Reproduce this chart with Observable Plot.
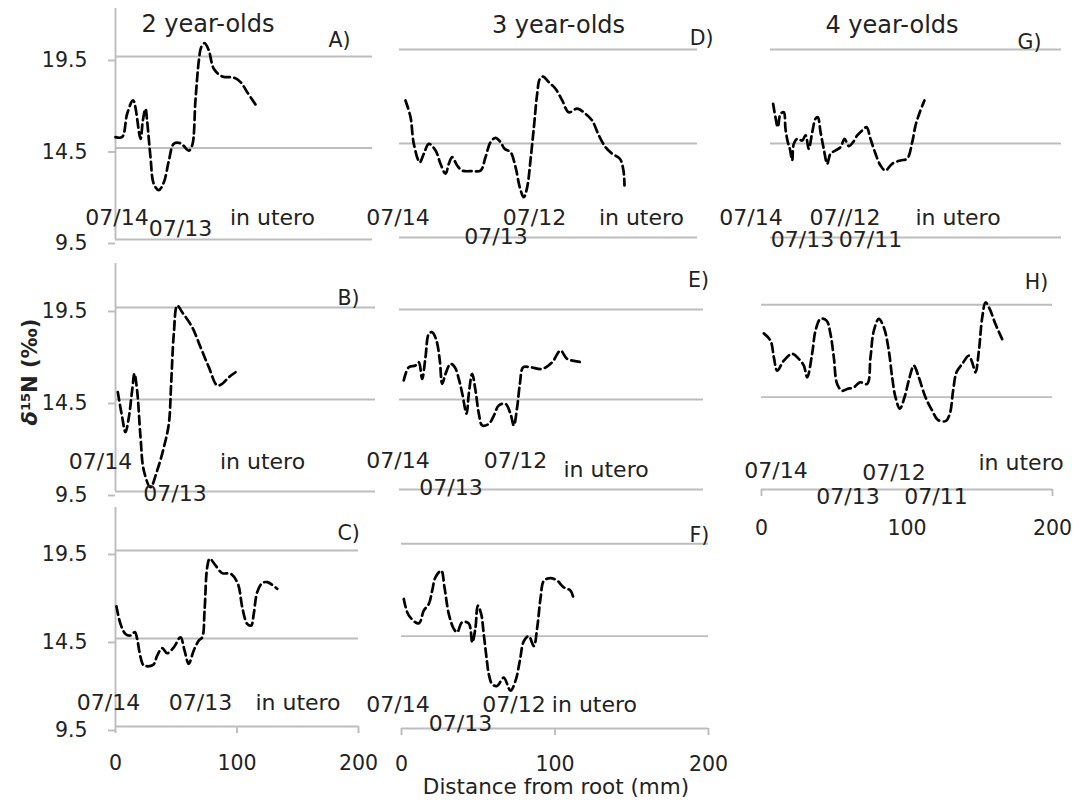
<!DOCTYPE html>
<html>
<head>
<meta charset="utf-8">
<script src="https://cdn.jsdelivr.net/npm/d3@7"></script>
<script src="https://cdn.jsdelivr.net/npm/@observablehq/plot@0.6"></script>
<style>
  html, body { margin: 0; padding: 0; background: #fff; }
  #chart { position: relative; width: 1078px; height: 801px; overflow: hidden; font-family: "DejaVu Sans", sans-serif; color: #222; }
  .ytitle { position: absolute; left: -80px; top: 358px; width: 220px; height: 28px; line-height: 28px; text-align: center; transform: rotate(-90deg); font-weight: bold; font-size: 21px; white-space: nowrap; }
  .ytitle sup { font-size: 0.62em; vertical-align: 0.55em; line-height: 0; }
  .xtitle { position: absolute; left: 356px; top: 774px; width: 400px; height: 26px; line-height: 26px; text-align: center; font-size: 21.5px; white-space: nowrap; }
</style>
</head>
<body>
<div id="chart">
  <div class="ytitle"><i>δ</i><sup>15</sup>N (‰)</div>
  <div class="xtitle">Distance from root (mm)</div>
</div>
<script>
// ---------- data (distance from root in mm, δ15N in ‰) ----------
const gridValues = [9.5, 14.5, 19.5];
const yTickLabels = ["9.5", "14.5", "19.5"];
const xTickValues = [0, 100, 200];
const columnTitles = ["2 year-olds", "3 year-olds", "4 year-olds"];

// Panel A (2 year-olds)
const aX = [0, 5.5, 9.6, 14.5, 20.6, 22.5, 24.7, 26, 28.8, 31.5, 35.6, 39.8, 43.9, 48, 53.5, 60.3, 63.1, 65.8, 68.6, 70.5, 73.3, 76.8, 80.9, 87.8, 97.4, 102.9, 108.4, 115.2];
const aY = [15.09, 15.1, 16.37, 17.1, 15.0, 16.0, 16.64, 16.0, 14.0, 12.54, 12.2, 12.63, 13.8, 14.73, 14.76, 14.36, 14.64, 17.1, 19.28, 20.0, 20.23, 19.83, 18.83, 18.41, 18.34, 18.1, 17.55, 16.88];
const aNoteText = ["07/14", "07/13", "in utero"];
const aNoteX = [1.2, 53.5, 129.2];
const aNoteY = [10.70, 10.05, 10.70];

// Panel B (2 year-olds)
const bX = [1.9, 5.5, 8.2, 11, 13.7, 15.6, 17.8, 20.6, 23.3, 28.8, 34.3, 39.8, 43.9, 45.8, 48, 50.8, 54.9, 63.1, 70, 76.8, 83.7, 87.8, 93.3, 98.8];
const bY = [14.9, 13.54, 12.72, 13.54, 14.99, 15.9, 14.99, 12.45, 10.64, 9.73, 10.64, 11.9, 13.18, 15.35, 18.07, 19.6, 19.24, 18.43, 17.34, 16.26, 15.26, 15.35, 15.71, 15.98];
const bNoteText = ["07/14", "07/13", "in utero"];
const bNoteX = [-12.3, 49.0, 121.0];
const bNoteY = [11.13, 9.34, 11.08];

// Panel C (2 year-olds)
const cX = [0.8, 4.1, 8.2, 12.3, 15.9, 17.8, 20.6, 23.3, 31, 34.3, 38.4, 42.5, 48, 53.5, 56.8, 60.3, 64.4, 68.6, 71.4, 73.3, 75.5, 77.6, 82.3, 87.8, 94.7, 100.7, 104.3, 108.4, 111.7, 113.8, 116.6, 120.7, 124.9, 133.1];
const cY = [16.32, 15.33, 14.76, 14.67, 14.86, 14.48, 13.44, 12.97, 13.0, 13.53, 13.95, 13.66, 14.0, 14.57, 13.82, 13.06, 13.82, 14.39, 14.57, 16.09, 18.55, 19.03, 18.65, 18.21, 18.18, 17.61, 16.28, 15.33, 15.24, 15.9, 17.13, 17.64, 17.70, 17.32];
const cNoteText = ["07/14", "07/13", "in utero"];
const cNoteX = [-5.8, 70.0, 150.2];
const cNoteY = [10.81, 10.81, 10.81];

// Panel D (3 year-olds)
const dX = [4.0, 7.4, 9.6, 13.6, 16.3, 19.7, 24.2, 27.5, 30.9, 33.1, 35.4, 38.7, 42.1, 48.8, 54.4, 57.7, 61.1, 64.4, 67.8, 70.5, 74.5, 77.9, 80.7, 83.4, 85.7, 87.9, 90.2, 92.4, 94.2, 96.4, 100.2, 104.7, 109.2, 113.6, 119.3, 124.8, 129.3, 133.8, 138.3, 142.8, 147.9, 150.3, 151.0];
const dY = [16.79, 15.9, 14.48, 13.5, 13.95, 14.48, 14.13, 13.42, 12.89, 13.42, 13.77, 13.33, 13.06, 13.03, 13.06, 13.77, 14.57, 14.80, 14.57, 14.22, 14.04, 13.24, 12.18, 11.64, 12.18, 13.6, 15.37, 17.14, 17.94, 18.06, 17.76, 17.41, 16.79, 16.16, 16.35, 16.08, 15.72, 14.93, 14.30, 13.95, 13.69, 13.06, 12.27];
const dNoteText = ["07/14", "07/12", "07/13", "in utero"];
const dNoteX = [-1.0, 90.6, 64.8, 162.4];
const dNoteY = [10.56, 10.56, 9.55, 10.56];

// Panel E (3 year-olds)
const eX = [2.8, 6.1, 10.5, 12.7, 14.9, 17.1, 19.3, 21.5, 24.3, 26.5, 28.1, 30.3, 33.6, 36.4, 39.0, 41.3, 44.1, 45.6, 47.8, 50, 52.2, 54.4, 58.8, 62.1, 65.3, 69.7, 73, 75.2, 77.4, 79.2, 81.4, 86.2, 93.9, 100.5, 105.9, 110.3, 120.2];
const eY = [15.56, 16.29, 16.39, 16.57, 15.65, 16.85, 18.15, 18.24, 17.78, 16.67, 15.37, 15.93, 16.48, 16.29, 15.65, 14.82, 13.71, 14.82, 15.93, 15.0, 13.71, 13.06, 13.15, 13.61, 14.17, 14.26, 13.71, 13.06, 14.07, 15.37, 16.29, 16.29, 16.2, 16.57, 17.22, 16.76, 16.57];
const eNoteText = ["07/14", "07/13", "07/12", "in utero"];
const eNoteX = [-1.0, 33.9, 76.3, 135.9];
const eNoteY = [11.06, 9.56, 11.06, 10.61];

// Panel F (3 year-olds)
const fX = [1.5, 4.8, 11.3, 14.5, 17.8, 20, 22.1, 25.9, 28.0, 30.8, 34.1, 36.3, 39.5, 43.8, 46.1, 48.2, 49.7, 51.9, 53.6, 55.4, 56.9, 59.1, 62.3, 66.6, 71, 74.3, 77.1, 79.7, 82.9, 86.2, 88.4, 90.6, 92.8, 97.1, 101.4, 105.7, 110.1, 112.2];
const fY = [16.51, 15.61, 15.19, 15.88, 16.24, 16.96, 17.68, 18.04, 17.14, 15.70, 14.89, 14.71, 15.25, 15.19, 14.16, 14.97, 16.15, 15.70, 14.59, 13.33, 12.43, 11.89, 11.80, 12.25, 11.55, 12.09, 13.17, 14.23, 14.5, 13.96, 14.95, 16.57, 17.5, 17.64, 17.5, 17.14, 16.96, 16.51];
const fNoteText = ["07/14", "07/13", "07/12", "in utero"];
const fNoteX = [-2.3, 38.4, 73.3, 125.7];
const fNoteY = [10.80, 9.77, 10.80, 10.80];

// Panel G (4 year-olds)
const gX = [1.8, 3.4, 5.0, 6.9, 9.1, 10.3, 11.9, 13.3, 14.9, 16, 18.4, 21.8, 24.1, 26.3, 28.7, 30.9, 32.5, 34.4, 36.6, 39, 41.2, 44.7, 48.1, 50.9, 53.8, 56.8, 59.6, 63, 66, 68.7, 72.2, 75.6, 79.0, 83.6, 89.3, 93.9, 97.4, 99.7, 102.6, 105.8];
const gY = [16.61, 15.9, 15.37, 16.08, 16.16, 15.28, 14.57, 14.22, 13.6, 14.48, 14.75, 14.66, 14.93, 14.22, 15.1, 15.81, 15.9, 15.1, 14.22, 13.42, 13.95, 14.13, 14.3, 14.75, 14.36, 14.57, 14.93, 15.19, 15.37, 14.75, 13.95, 13.33, 13.06, 13.42, 13.6, 13.69, 14.57, 15.46, 16.16, 16.79];
const gNoteText = ["07/14", "07//12", "in utero", "07/13", "07/11"];
const gNoteX = [-13.4, 51.2, 128.9, 22.0, 68.7];
const gNoteY = [10.56, 10.56, 10.56, 9.39, 9.39];

// Panel H (4 year-olds)
const hX = [1.6, 6.2, 8.5, 10.8, 15.3, 21.1, 25.6, 29.1, 31.4, 34.8, 37.1, 40.5, 44.7, 47.4, 49.7, 52, 55.5, 58.9, 63.5, 67.6, 72.6, 74.9, 77.2, 80.6, 84.1, 87.5, 89.8, 92.1, 95.1, 98.3, 101.2, 104.7, 108.1, 112.7, 117.3, 121.2, 126.5, 129.4, 131.7, 134, 137.9, 142.5, 144.8, 147.1, 149.4, 151.7, 154, 156.9, 160.8, 165.4];
const hY = [17.95, 17.55, 16.65, 15.93, 16.47, 16.84, 16.57, 16.2, 15.57, 16.84, 18.09, 18.73, 18.64, 17.92, 16.65, 15.21, 14.84, 14.94, 15.03, 15.30, 15.21, 16.65, 18.09, 18.73, 18.27, 17.01, 15.57, 14.49, 13.87, 14.49, 15.39, 16.2, 15.57, 14.49, 13.77, 13.27, 13.2, 13.59, 14.85, 15.84, 16.29, 16.74, 16.38, 15.84, 17.01, 18.81, 19.62, 19.26, 18.45, 17.64];
const hNoteText = ["07/14", "07/12", "in utero", "07/13", "07/11"];
const hNoteX = [10.0, 91.1, 178.4, 59.5, 119.9];
const hNoteY = [10.53, 10.42, 10.96, 9.07, 9.07];

// Panel letters and column titles (positions in data units of their panel)
const panelLetters = ["A)", "B)", "C)", "D)", "E)", "F)", "G)", "H)"];
const letterX = [184.4, 191.8, 191.8, 202.7, 196.7, 194.1, 178.0, 189.0];
const letterY = [20.37, 19.99, 20.47, 20.09, 21.11, 19.93, 19.87, 20.69];
const titleX = [76.1, 106.7, 83.5];
const titleY = [21.25, 20.78, 20.78];

// ---------- layout (pixel frames of each panel) ----------
const W = 1078, H = 801;
const GRID = "#bdbdbd", INK = "#222";
const panels = [
  {xs: aX, ys: aY, nt: aNoteText, nx: aNoteX, ny: aNoteY, left: 115, right: 372, top: 8, bottom: 239, xMax: 211.5, yMax: 22.12, yAxis: true, title: 0},
  {xs: bX, ys: bY, nt: bNoteText, nx: bNoteX, ny: bNoteY, left: 115, right: 375, top: 263, bottom: 491, xMax: 214, yMax: 21.89, yAxis: true},
  {xs: cX, ys: cY, nt: cNoteText, nx: cNoteX, ny: cNoteY, left: 115, right: 358, top: 507, bottom: 726, xMax: 200, yMax: 21.94, yAxis: true, xPad: 22},
  {xs: dX, ys: dY, nt: dNoteText, nx: dNoteX, ny: dNoteY, left: 399, right: 697, top: 2, bottom: 237, xMax: 200, yMax: 22, title: 1},
  {xs: eX, ys: eY, nt: eNoteText, nx: eNoteX, ny: eNoteY, left: 399, right: 703, top: 264, bottom: 489, xMax: 200, yMax: 22},
  {xs: fX, ys: fY, nt: fNoteText, nx: fNoteX, ny: fNoteY, left: 401, right: 708, top: 497, bottom: 728, xMax: 200, yMax: 22, xPad: 21},
  {xs: gX, ys: gY, nt: gNoteText, nx: gNoteX, ny: gNoteY, left: 770, right: 1061, top: 2, bottom: 237, xMax: 200, yMax: 22, title: 2},
  {xs: hX, ys: hY, nt: hNoteText, nx: hNoteX, ny: hNoteY, left: 761, right: 1052, top: 258, bottom: 489, xMax: 200, yMax: 22, xPad: 24}
];

const chart = document.getElementById("chart");

panels.forEach((p, i) => {
  const series = p.xs.map((x, k) => ({x, y: p.ys[k]}));
  const notes = p.nt.map((t, k) => ({t, x: p.nx[k], y: p.ny[k]}));
  const marks = [
    Plot.ruleY(gridValues, {stroke: GRID, strokeWidth: 1.9})
  ];
  if (p.yAxis) {
    marks.push(Plot.ruleX([0], {stroke: GRID, strokeWidth: 1.9}));
    marks.push(Plot.axisY({
      ticks: gridValues, tickFormat: (d) => yTickLabels[gridValues.indexOf(d)],
      tickSize: 7, tickPadding: 21, stroke: GRID, strokeWidth: 1.9,
      fill: INK, fontSize: 20.5, dy: 4, label: null
    }));
  }
  if (p.xPad != null) {
    marks.push(Plot.axisX({
      ticks: xTickValues, tickFormat: (d) => String(d),
      tickSize: 7, tickPadding: p.xPad, stroke: GRID, strokeWidth: 1.9,
      fill: INK, fontSize: 20.5, label: null
    }));
  }
  marks.push(Plot.line(series, {
    x: "x", y: "y", stroke: "#000", strokeWidth: 2.7,
    strokeDasharray: "8.5,4.5", curve: "catmull-rom"
  }));
  marks.push(Plot.text(notes, {x: "x", y: "y", text: "t", fontSize: 22, fill: INK}));
  marks.push(Plot.text([panelLetters[i]], {x: () => letterX[i], y: () => letterY[i], text: (d) => d, fontSize: 20.5, fill: INK}));
  if (p.title != null) {
    const t = p.title;
    marks.push(Plot.text([columnTitles[t]], {x: () => titleX[t], y: () => titleY[t], text: (d) => d, fontSize: 24, fill: INK}));
  }
  const svg = Plot.plot({
    width: W, height: H,
    marginLeft: p.left, marginRight: W - p.right,
    marginTop: p.top, marginBottom: H - p.bottom,
    x: p.xPad != null ? {domain: [0, p.xMax]} : {domain: [0, p.xMax], axis: null},
    y: p.yAxis ? {domain: [9.5, p.yMax]} : {domain: [9.5, p.yMax], axis: null},
    style: {
      position: "absolute", left: "0px", top: "0px",
      background: "transparent", overflow: "visible", maxWidth: "none",
      fontFamily: "'DejaVu Sans', sans-serif", color: INK
    },
    marks
  });
  svg.classList.add("panel");
  chart.appendChild(svg);
});
</script>
</body>
</html>
